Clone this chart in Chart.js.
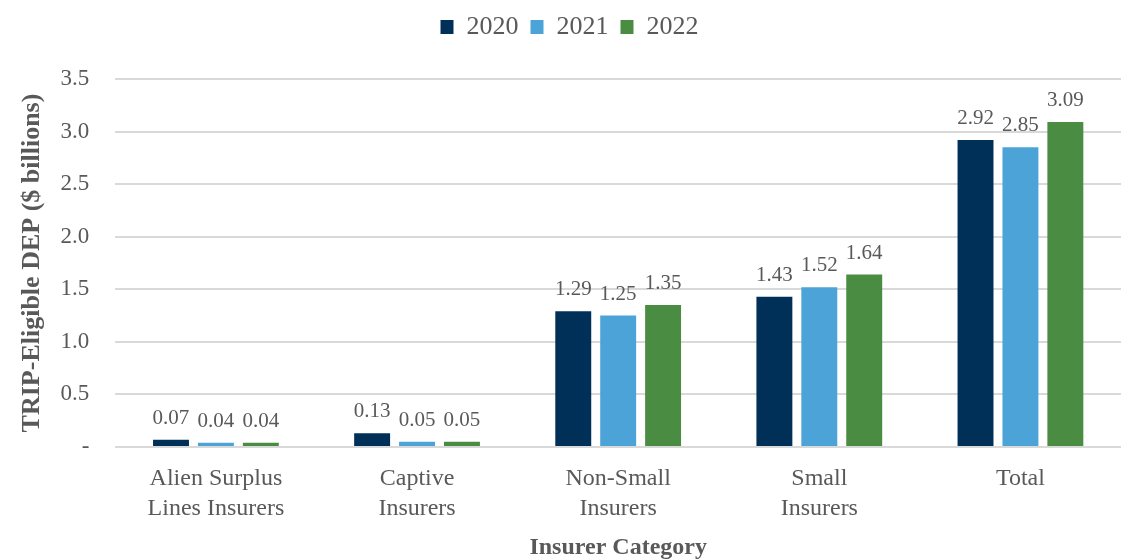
<!DOCTYPE html>
<html lang="en">
<head>
<meta charset="UTF-8">
<title>TRIP-Eligible DEP by Insurer Category</title>
<script src="https://cdn.jsdelivr.net/npm/chart.js"></script>
<style>
    html, body { margin: 0; padding: 0; background: #ffffff; }
    .chart-box { position: relative; width: 1121px; height: 560px; }
</style>
</head>
<body>
<div class="chart-box">
    <canvas id="chartCanvas"></canvas>
</div>
<script>
// data
const categories = [
    ['Alien Surplus', 'Lines Insurers'],
    ['Captive', 'Insurers'],
    ['Non-Small', 'Insurers'],
    ['Small', 'Insurers'],
    'Total'
];
const years = ['2020', '2021', '2022'];
const values2020 = [0.07, 0.13, 1.29, 1.43, 2.92];
const values2021 = [0.04, 0.05, 1.25, 1.52, 2.85];
const values2022 = [0.04, 0.05, 1.35, 1.64, 3.09];
const yTicks = [0, 0.5, 1.0, 1.5, 2.0, 2.5, 3.0, 3.5];

const colors = ['#003057', '#4ba3d7', '#4a8c41'];
const textColor = '#595959';
const serif = "'Liberation Serif', 'Times New Roman', serif";

// draws the value above each bar
const barValues = {
    id: 'barValues',
    afterDatasetsDraw(chart) {
        const ctx = chart.ctx;
        ctx.save();
        ctx.font = '21px ' + serif;
        ctx.fillStyle = textColor;
        ctx.textAlign = 'center';
        ctx.textBaseline = 'alphabetic';
        chart.data.datasets.forEach((ds, i) => {
            const meta = chart.getDatasetMeta(i);
            meta.data.forEach((bar, j) => {
                ctx.fillText(ds.data[j].toFixed(2), bar.x, bar.y - 16);
            });
        });
        ctx.restore();
    }
};

// extra gap between legend and plot
const legendGap = {
    id: 'legendGap',
    beforeInit(chart) {
        const fit = chart.legend.fit;
        chart.legend.fit = function () {
            fit.bind(chart.legend)();
            this.height += 29;
        };
    }
};

const ctx = document.getElementById('chartCanvas').getContext('2d');
const chart = new Chart(ctx, {
    type: 'bar',
    data: {
        labels: categories,
        datasets: [
            { label: years[0], data: values2020, backgroundColor: colors[0] },
            { label: years[1], data: values2021, backgroundColor: colors[1] },
            { label: years[2], data: values2022, backgroundColor: colors[2] }
        ]
    },
    options: {
        responsive: true,
        maintainAspectRatio: false,
        animation: false,
        layout: { padding: { top: 2, right: 0, left: 18, bottom: 0 } },
        datasets: {
            bar: { categoryPercentage: 0.67, barPercentage: 0.8 }
        },
        plugins: {
            legend: {
                position: 'top',
                labels: {
                    color: textColor,
                    font: { family: serif, size: 26 },
                    boxWidth: 13,
                    boxHeight: 14,
                    padding: 12
                }
            },
            tooltip: { enabled: false }
        },
        scales: {
            x: {
                grid: { display: false },
                border: { display: false },
                afterFit: s => { s.height -= 9; },
                ticks: {
                    color: textColor,
                    font: { family: serif, size: 24, lineHeight: 1.25 },
                    maxRotation: 0,
                    padding: 9
                },
                title: {
                    display: true,
                    text: 'Insurer Category',
                    color: textColor,
                    font: { family: serif, size: 24, weight: 'bold', lineHeight: 1 },
                    padding: { top: 12, bottom: 0 }
                }
            },
            y: {
                min: 0,
                max: 3.5,
                afterBuildTicks: axis => {
                    axis.ticks = yTicks.map(v => ({ value: v }));
                },
                afterFit: s => { s.width -= 22; },
                grid: { color: '#d9d9d9', lineWidth: 2, drawTicks: false },
                border: { display: false },
                ticks: {
                    color: textColor,
                    font: { family: serif, size: 23 },
                    padding: 26,
                    callback: v => v === 0 ? '-' : v.toFixed(1)
                },
                title: {
                    display: true,
                    text: 'TRIP-Eligible DEP ($ billions)',
                    color: textColor,
                    font: { family: serif, size: 26, weight: 'bold', lineHeight: 1.1 },
                    padding: { top: 0, bottom: 10 }
                }
            }
        }
    },
    plugins: [barValues, legendGap]
});
</script>
</body>
</html>
